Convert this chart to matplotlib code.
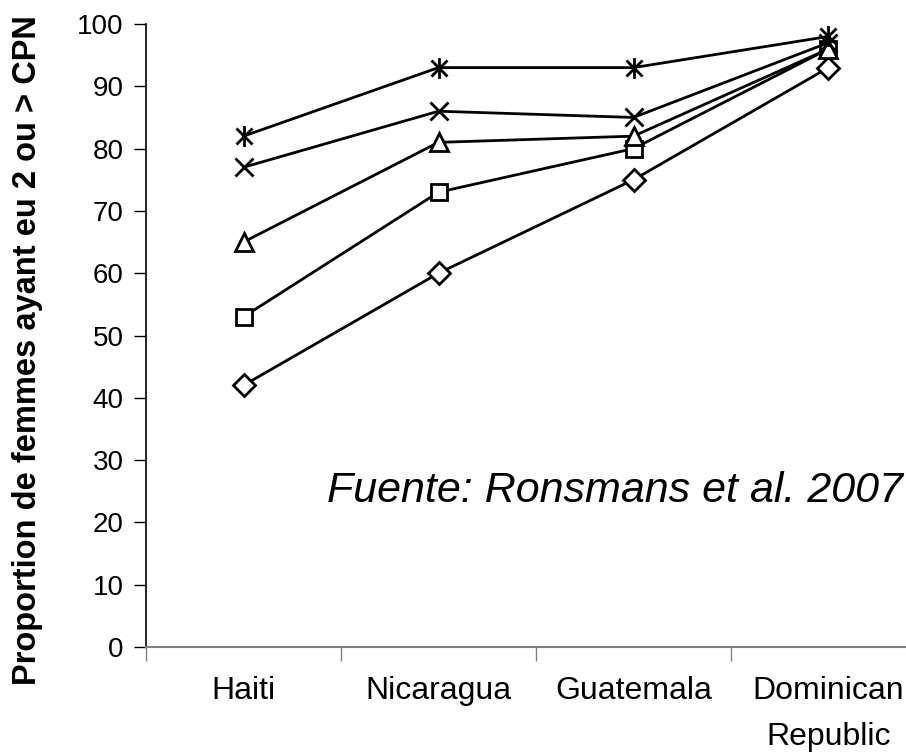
import numpy as np
import matplotlib.pyplot as plt
from matplotlib.path import Path

plt.rcParams['font.family'] = ['Liberation Sans', 'DejaVu Sans']

countries = ['Haiti', 'Nicaragua', 'Guatemala', 'Dominican\nRepublic']
q1 = [42, 60, 75, 93]
q2 = [53, 73, 80, 96]
q3 = [65, 81, 82, 96]
q4 = [77, 86, 85, 97]
q5 = [82, 93, 93, 98]

# Excel-style star marker: an X with a vertical stroke through it
star = Path([(-1, -1), (1, 1), (-1, 1), (1, -1), (0, -1.3), (0, 1.3)],
            [Path.MOVETO, Path.LINETO, Path.MOVETO, Path.LINETO, Path.MOVETO, Path.LINETO])

fig = plt.figure(figsize=(9.06, 7.53), dpi=100)
ax = fig.add_axes([146 / 906, 1 - 647 / 753, 780 / 906, 623 / 753])

x = np.arange(len(countries))
styles = [(q1, 'D', 11), (q2, 's', 12), (q3, '^', 13), (q4, 'x', 13), (q5, star, 15)]
for vals, m, ms in styles:
    ax.plot(x, vals, color='black', lw=2, marker=m, markersize=ms,
            markerfacecolor='white', markeredgecolor='black', markeredgewidth=2,
            clip_on=False, zorder=3)

ax.set_xlim(-0.5, 3.5)
ax.set_ylim(0, 100)
ax.set_yticks(range(0, 101, 10))
ax.set_xticks(x)
ax.set_xticklabels(countries, fontsize=23, linespacing=1.7)
ax.set_xticks(np.arange(-0.5, 4, 1), minor=True)
ax.tick_params(axis='x', which='major', length=0, pad=21)
ax.tick_params(axis='x', which='minor', length=10, width=1, color='#808080', direction='out')
ax.tick_params(axis='y', labelsize=20, length=9, width=1, direction='out', pad=7)

for s in ['top', 'right']:
    ax.spines[s].set_visible(False)
ax.spines['bottom'].set_color('#808080')
ax.spines['bottom'].set_linewidth(1.5)
ax.spines['left'].set_linewidth(1.2)

ax.set_ylabel('Proportion de femmes ayant eu 2 ou > CPN', fontsize=23.5,
              fontweight='bold')
ax.yaxis.set_label_coords(-0.132, 0.477)

fig.text(903 / 906, 1 - 502 / 753, 'Fuente: Ronsmans et al. 2007', fontsize=31,
         style='italic', ha='right', va='baseline')

fig.savefig('out.png', dpi=100)
